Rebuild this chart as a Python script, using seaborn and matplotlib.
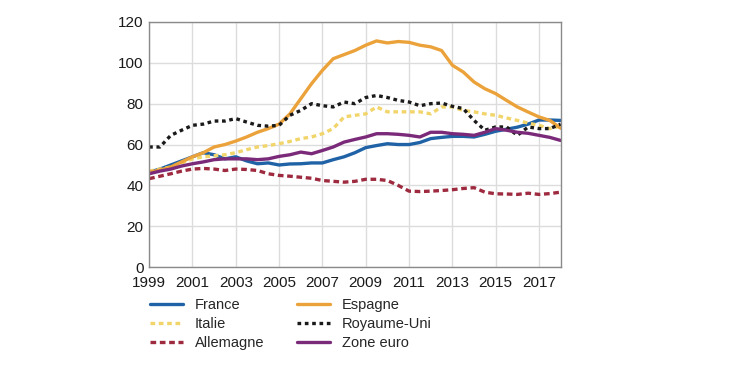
import numpy as np
import pandas as pd
import seaborn as sns
import matplotlib.pyplot as plt

# half-yearly points, 1999 -> 2018
years = np.arange(1999, 2018.01, 0.5)

france = [46.5, 48, 50, 52, 54, 56, 55, 53, 54, 52,
          50.6, 51, 50, 50.5, 50.6, 51, 51, 52.6, 54, 56,
          58.5, 59.5, 60.4, 60, 60, 61, 62.9, 63.5, 64, 64,
          63.7, 65, 66.5, 67.5, 68.5, 70, 72, 72, 71.8]
italie = [47, 48, 49, 51, 53, 54, 54.5, 55, 56, 57.5,
          58.8, 59.5, 60.4, 61.5, 62.9, 63.7, 65.3, 67.8, 73.5, 74.3,
          75, 78.4, 76, 76, 76, 76, 75, 78.4, 78.4, 76.7,
          76, 75, 74.3, 73, 71.8, 70.5, 69.4, 67.8, 69]
allemagne = [43.3, 44.5, 45.7, 47, 48, 48.3, 48, 47.3, 48, 47.8,
             47.3, 45.7, 44.9, 44.5, 44, 43.5, 42.4, 42, 41.6, 42,
             43, 43, 42.4, 40, 37.2, 37, 37.2, 37.5, 37.9, 38.5,
             38.9, 36.7, 35.9, 35.8, 35.6, 36.2, 35.6, 36, 36.7]
espagne = [46.5, 47.5, 49, 51.5, 54, 56, 58.8, 60, 61.7, 63.7,
           66, 67.8, 70, 75, 82.4, 89.8, 96.3, 102, 104, 106,
           108.6, 110.7, 109.7, 110.4, 110, 108.6, 107.8, 106, 98.8, 95.5,
           90.6, 87.3, 84.9, 81.6, 78.4, 75.9, 73.5, 71.8, 68]
royaume_uni = [58.8, 58.8, 64.5, 67, 69.4, 70, 71.5, 71.5, 72.7, 71,
               69.4, 69, 69.4, 74.3, 76.7, 80, 79, 78.4, 80.8, 80,
               83, 84, 83, 81.6, 80.8, 79, 80, 80.3, 78.7, 77.6,
               71.8, 67, 68.6, 68.6, 64.5, 68.6, 67.8, 67.8, 70]
zone_euro = [45.7, 47, 48, 49.5, 50.6, 51.5, 52.6, 53, 53, 53,
             52.6, 53, 54.2, 55, 56.3, 55.5, 57.1, 58.8, 61.2, 62.5,
             63.7, 65.3, 65.3, 65, 64.5, 63.7, 66, 66, 65.3, 65,
             64.5, 66, 67.8, 67, 66, 65.5, 64.5, 63.5, 62]

series = {
    'France': (france, '#1f62a6', '-'),
    'Italie': (italie, '#f2d56a', (0, (1.4, 1.1))),
    'Allemagne': (allemagne, '#9e2a3f', (0, (1.7, 1.1))),
    'Espagne': (espagne, '#eba23a', '-'),
    'Royaume-Uni': (royaume_uni, '#1a1a1a', (0, (1.1, 1.1))),
    'Zone euro': (zone_euro, '#7a2a78', '-'),
}

sns.set_theme(style='white')
plt.rcParams['font.family'] = ['Liberation Sans', 'DejaVu Sans']

fig = plt.figure(figsize=(7.31, 3.65), dpi=100)
ax = fig.add_axes([0.204, 0.268, 0.563, 0.672])

for name, (vals, col, ls) in series.items():
    df = pd.DataFrame({'annee': years, 'valeur': vals})
    sns.lineplot(data=df, x='annee', y='valeur', ax=ax, color=col,
                 linestyle=ls, linewidth=2.4, label=name)

ax.set_xlim(1999, 2018)
ax.set_ylim(0, 120)
ax.set_xticks(range(1999, 2018, 2))
ax.set_yticks(range(0, 121, 20))
ax.grid(True, color='#dcdcdc', linewidth=1)
ax.set_axisbelow(True)
for sp in ax.spines.values():
    sp.set_color('#8a8a8a')
    sp.set_linewidth(1)
ax.tick_params(length=0, labelsize=11, colors='#1a1a1a')
ax.tick_params(axis='x', pad=6.5)
ax.tick_params(axis='y', pad=4)
ax.set_xlabel('')
ax.set_ylabel('')

handles, labels = ax.get_legend_handles_labels()
ax.get_legend().remove()
fig.legend(handles, labels, ncol=2, frameon=False, fontsize=10.5,
           loc='upper left', bbox_to_anchor=(0.197, 0.2),
           handlelength=2.3, handletextpad=0.8, columnspacing=2.2,
           labelspacing=0.35, borderaxespad=0)

fig.savefig('out.png', dpi=100)
